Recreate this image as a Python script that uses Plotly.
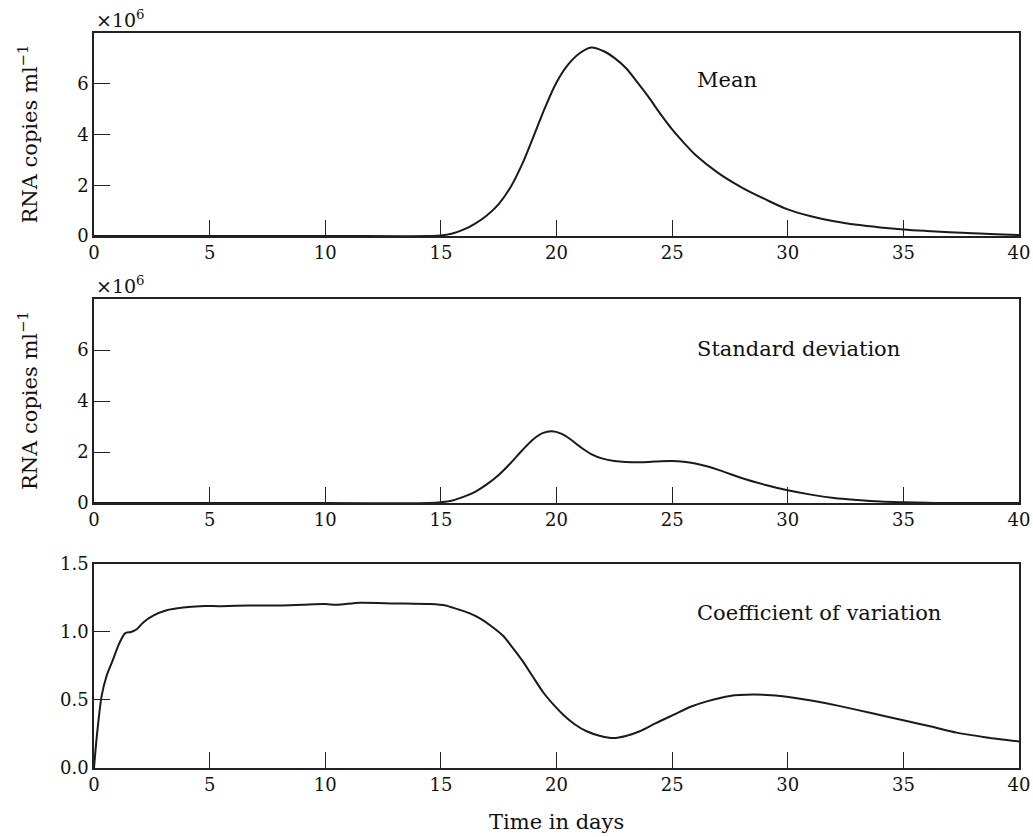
import plotly.graph_objects as go
from plotly.subplots import make_subplots

# Mean RNA copies (x10^6)
mean_t = [0, 5, 10, 14.5, 15.0, 15.5, 16.0, 16.5, 17.0, 17.5, 18.0, 18.5, 19.0, 19.5, 20.0,
          20.5, 21.0, 21.5, 22.0, 22.5, 23.0, 23.5, 24.0, 24.5, 25.0, 25.5, 26.0, 27.0, 28.0,
          29.0, 30.0, 31.0, 32.0, 33.0, 34.0, 35.0, 36.0, 37.0, 38.0, 39.0, 40.0]
mean_v = [0, 0, 0, 0, 0.02, 0.1, 0.26, 0.5, 0.82, 1.26, 1.9, 2.8, 3.91, 5.05, 6.05,
          6.75, 7.2, 7.43, 7.3, 7.02, 6.62, 6.05, 5.45, 4.8, 4.2, 3.68, 3.2, 2.48, 1.92,
          1.46, 1.05, 0.78, 0.58, 0.44, 0.34, 0.26, 0.2, 0.15, 0.11, 0.07, 0.04]

# Standard deviation (x10^6)
sd_t = [0, 5, 10, 14.5, 15.0, 15.5, 16.0, 16.5, 17.0, 17.5, 18.0, 18.5, 19.0, 19.4, 19.8,
        20.2, 20.6, 21.0, 21.5, 22.0, 22.5, 23.0, 23.5, 24.0, 24.5, 25.0, 25.5, 26.0,
        26.5, 27.0, 27.5, 28.0, 29.0, 30.0, 31.0, 32.0, 33.0, 34.0, 35.0, 36.0, 37.0, 40]
sd_v = [0, 0, 0, 0, 0.03, 0.1, 0.25, 0.45, 0.74, 1.1, 1.55, 2.05, 2.5, 2.74, 2.81,
        2.72, 2.5, 2.22, 1.92, 1.74, 1.65, 1.61, 1.6, 1.61, 1.64, 1.65, 1.62, 1.55,
        1.44, 1.3, 1.14, 0.98, 0.72, 0.5, 0.33, 0.2, 0.12, 0.06, 0.03, 0.01, 0.0, 0.0]

# Coefficient of variation
cv_t = [0, 0.12, 0.33, 0.55, 0.83, 1.05, 1.34, 1.6, 1.85, 2.13, 2.56, 3.14, 3.86, 4.58,
        5.5, 6.75, 8.0, 9.0, 10.0, 10.5, 11.5, 13.0, 14.53, 15.2, 15.68, 16.2, 16.69,
        17.2, 17.7, 18.1, 18.56, 19.0, 19.43, 19.9, 20.3, 20.8, 21.3, 21.9, 22.46, 23.0,
        23.6, 24.3, 25.05, 25.8, 26.5, 27.5, 28.5, 29.3, 30.1, 31.2, 32.26, 33.7, 35.14,
        36.2, 37.3, 38.6, 40]
cv_v = [0, 0.23, 0.53, 0.68, 0.80, 0.90, 0.99, 1.0, 1.02, 1.07, 1.12, 1.16, 1.18, 1.19,
        1.19, 1.195, 1.195, 1.2, 1.205, 1.2, 1.215, 1.21, 1.205, 1.195, 1.17, 1.14, 1.10,
        1.04, 0.97, 0.885, 0.78, 0.665, 0.555, 0.46, 0.39, 0.32, 0.27, 0.235, 0.22, 0.235,
        0.27, 0.33, 0.39, 0.45, 0.49, 0.53, 0.54, 0.535, 0.52, 0.49, 0.455, 0.40, 0.345,
        0.305, 0.26, 0.225, 0.195]

x_ticks = [0, 5, 10, 15, 20, 25, 30, 35, 40]
rna_ticks = [0, 2, 4, 6]
cv_ticks = [0, 0.5, 1.0, 1.5]

FONT = "DejaVu Serif"
LINE = "#1a1a1a"
TXT = "#111"

fig = make_subplots(rows=3, cols=1)
fig.add_trace(go.Scatter(x=mean_t, y=mean_v, mode="lines",
                         line=dict(color=LINE, width=2, shape="spline", smoothing=1.0)), row=1, col=1)
fig.add_trace(go.Scatter(x=sd_t, y=sd_v, mode="lines",
                         line=dict(color=LINE, width=2, shape="spline", smoothing=1.0)), row=2, col=1)
fig.add_trace(go.Scatter(x=cv_t, y=cv_v, mode="lines",
                         line=dict(color=LINE, width=2, shape="spline", smoothing=0.7)), row=3, col=1)

domains = [[0.7238, 1.0], [0.3605, 0.6381], [0.0, 0.2776]]
axis_common = dict(showline=True, mirror=True, linecolor="#222", linewidth=1.5,
                   ticks="inside", ticklen=16, tickcolor="#222", tickwidth=1,
                   showgrid=False, zeroline=False, automargin=False,
                   tickfont=dict(family=FONT, size=18, color=TXT))
for i in range(3):
    fig.update_xaxes(row=i + 1, col=1, range=[0, 40], tickvals=x_ticks, **axis_common)
    fig.update_yaxes(row=i + 1, col=1, domain=domains[i], **axis_common)
fig.update_yaxes(row=1, col=1, range=[0, 8], tickvals=rna_ticks)
fig.update_yaxes(row=2, col=1, range=[0, 8], tickvals=rna_ticks)
fig.update_yaxes(row=3, col=1, range=[0, 1.5], tickvals=cv_ticks, tickformat=".1f")

ann_font = dict(family=FONT, size=21, color=TXT)
# y-axis titles
for d in domains[:2]:
    fig.add_annotation(x=-66 / 925, y=(d[0] + d[1]) / 2, xref="paper", yref="paper",
                       text="RNA copies ml<sup>−1</sup>", textangle=-90, showarrow=False,
                       xanchor="center", yanchor="middle", font=ann_font)
# x-axis title
fig.add_annotation(x=0.5, y=-54 / 735, xref="paper", yref="paper", text="Time in days",
                   showarrow=False, xanchor="center", yanchor="middle", font=ann_font)

fig.add_annotation(x=26.0, y=6.15, xref="x", yref="y", text="Mean", showarrow=False,
                   xanchor="left", font=ann_font)
fig.add_annotation(x=26.0, y=6.02, xref="x2", yref="y2", text="Standard deviation",
                   showarrow=False, xanchor="left", font=ann_font)
fig.add_annotation(x=26.0, y=1.14, xref="x3", yref="y3", text="Coefficient of variation",
                   showarrow=False, xanchor="left", font=ann_font)
for ax in ["", "2"]:
    fig.add_annotation(x=0, y=1.0, xref=f"x{ax} domain", yref=f"y{ax} domain",
                       text="×10<sup>6</sup>", showarrow=False, xanchor="left",
                       yanchor="bottom", yshift=0, font=dict(family=FONT, size=19, color=TXT))

fig.update_layout(width=1033, height=837, margin=dict(l=94, r=14, t=33, b=69),
                  paper_bgcolor="white", plot_bgcolor="white", showlegend=False)

fig.write_html("out.html", config={"displayModeBar": False},
               post_script="document.body.style.margin='0';")
